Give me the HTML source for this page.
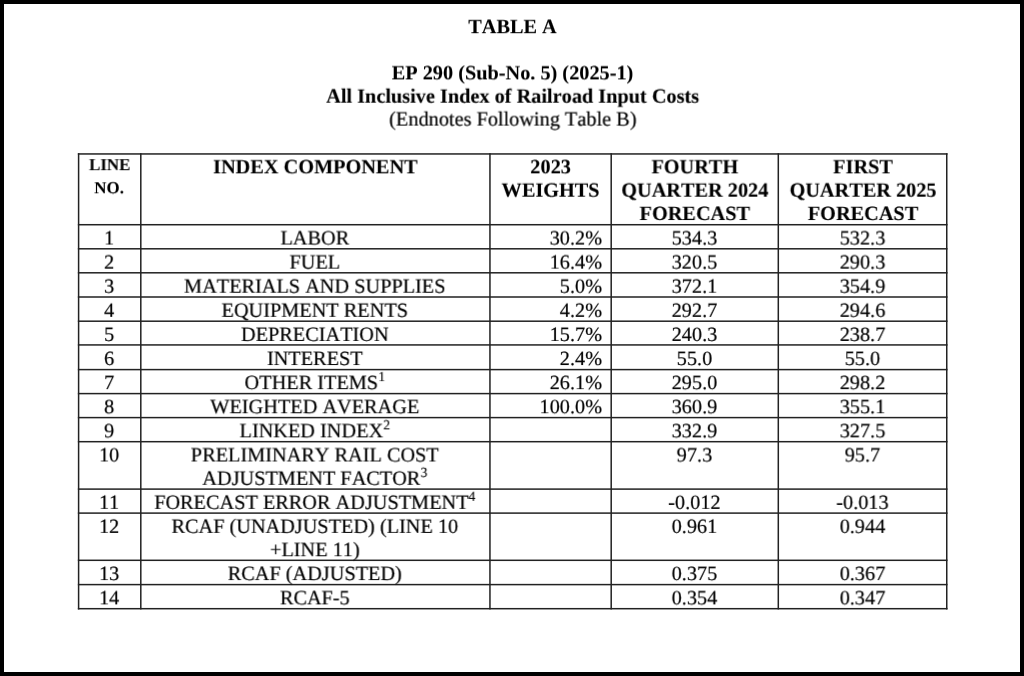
<!DOCTYPE html>
<html><head><meta charset="utf-8"><title>Table A</title>
<style>
html,body{margin:0;padding:0;}
body{width:1024px;height:676px;background:#000;position:relative;overflow:hidden;
 font-family:"Liberation Serif",serif;color:#000;font-kerning:none;}
#page{position:absolute;left:4px;top:4px;width:1016px;height:668px;background:#fff;}
.t{position:absolute;height:23px;line-height:23px;white-space:nowrap;margin:0;padding:0;
 will-change:transform;transform-origin:50% 50%;-webkit-text-stroke:0.2px #000;text-rendering:geometricPrecision;}
sup{font-size:13.8px;line-height:0;vertical-align:baseline;position:relative;top:-8.1px;-webkit-text-stroke-width:0.1px;}
svg{position:absolute;left:0;top:0;}
</style></head><body>
<div id="page"></div>
<svg width="1024" height="676" viewBox="0 0 1024 676" fill="#222">
<rect x="77.85" y="153.20" width="1.5" height="456.25"/>
<rect x="140.05" y="153.20" width="1.5" height="456.25"/>
<rect x="489.20" y="153.20" width="1.5" height="456.25"/>
<rect x="610.45" y="153.20" width="1.5" height="456.25"/>
<rect x="777.55" y="153.20" width="1.5" height="456.25"/>
<rect x="946.00" y="153.20" width="1.5" height="456.25"/>
<rect x="77.85" y="153.20" width="869.65" height="1.5"/>
<rect x="77.85" y="223.97" width="869.65" height="1.5"/>
<rect x="77.85" y="248.05" width="869.65" height="1.5"/>
<rect x="77.85" y="272.05" width="869.65" height="1.5"/>
<rect x="77.85" y="296.25" width="869.65" height="1.5"/>
<rect x="77.85" y="320.45" width="869.65" height="1.5"/>
<rect x="77.85" y="344.18" width="869.65" height="1.5"/>
<rect x="77.85" y="368.85" width="869.65" height="1.5"/>
<rect x="77.85" y="392.85" width="869.65" height="1.5"/>
<rect x="77.85" y="416.85" width="869.65" height="1.5"/>
<rect x="77.85" y="440.94" width="869.65" height="1.5"/>
<rect x="77.85" y="488.35" width="869.65" height="1.5"/>
<rect x="77.85" y="512.35" width="869.65" height="1.5"/>
<rect x="77.85" y="559.55" width="869.65" height="1.5"/>
<rect x="77.85" y="583.85" width="869.65" height="1.5"/>
<rect x="77.85" y="607.95" width="869.65" height="1.5"/>
</svg>
<div class="t" style="left:0px;top:16px;width:1025.00px;text-align:center;font-size:20.3px;font-weight:bold;-webkit-text-stroke-width:0.1px;transform:translate(0.00px,0.20px) rotate(0.003deg);">TABLE A</div>
<div class="t" style="left:0px;top:62px;width:1025.00px;text-align:center;font-size:20.3px;font-weight:bold;-webkit-text-stroke-width:0.1px;transform:translate(0.00px,0.40px) rotate(0.003deg);">EP 290 (Sub-No. 5) (2025-1)</div>
<div class="t" style="left:0px;top:85px;width:1025.00px;text-align:center;font-size:20.3px;font-weight:bold;-webkit-text-stroke-width:0.1px;transform:translate(0.20px,0.70px) rotate(0.003deg);">All Inclusive Index of Railroad Input Costs</div>
<div class="t" style="left:0px;top:108px;width:1025.00px;text-align:center;font-size:20.3px;transform:translate(0.40px,0.60px) rotate(0.003deg);">(Endnotes Following Table B)</div>
<div class="t" style="left:78px;top:153px;width:62.20px;text-align:center;font-size:16.9px;font-weight:bold;-webkit-text-stroke-width:0.1px;transform:translate(0.60px,0.20px) rotate(0.003deg);">LINE</div>
<div class="t" style="left:78px;top:176px;width:62.20px;text-align:center;font-size:16.9px;font-weight:bold;-webkit-text-stroke-width:0.1px;transform:translate(0.00px,0.30px) rotate(0.003deg);">NO.</div>
<div class="t" style="left:140px;top:156px;width:349.15px;text-align:center;font-size:20.3px;font-weight:bold;-webkit-text-stroke-width:0.1px;transform:translate(0.80px,0.35px) rotate(0.003deg);">INDEX COMPONENT</div>
<div class="t" style="left:489px;top:156px;width:121.25px;text-align:center;font-size:20.3px;font-weight:bold;-webkit-text-stroke-width:0.1px;transform:translate(0.95px,0.35px) rotate(0.003deg);">2023</div>
<div class="t" style="left:489px;top:179px;width:121.25px;text-align:center;font-size:20.3px;font-weight:bold;-webkit-text-stroke-width:0.1px;transform:translate(0.95px,0.70px) rotate(0.003deg);">WEIGHTS</div>
<div class="t" style="left:611px;top:156px;width:167.10px;text-align:center;font-size:20.3px;font-weight:bold;-webkit-text-stroke-width:0.1px;transform:translate(0.30px,0.35px) rotate(0.003deg);">FOURTH</div>
<div class="t" style="left:611px;top:179px;width:167.10px;text-align:center;font-size:20.3px;font-weight:bold;-webkit-text-stroke-width:0.1px;transform:translate(0.30px,0.70px) rotate(0.003deg);">QUARTER 2024</div>
<div class="t" style="left:611px;top:203px;width:167.10px;text-align:center;font-size:20.3px;font-weight:bold;-webkit-text-stroke-width:0.1px;transform:translate(0.30px,0.05px) rotate(0.003deg);">FORECAST</div>
<div class="t" style="left:778px;top:156px;width:168.45px;text-align:center;font-size:20.3px;font-weight:bold;-webkit-text-stroke-width:0.1px;transform:translate(0.80px,0.35px) rotate(0.003deg);">FIRST</div>
<div class="t" style="left:778px;top:179px;width:168.45px;text-align:center;font-size:20.3px;font-weight:bold;-webkit-text-stroke-width:0.1px;transform:translate(0.80px,0.70px) rotate(0.003deg);">QUARTER 2025</div>
<div class="t" style="left:778px;top:203px;width:168.45px;text-align:center;font-size:20.3px;font-weight:bold;-webkit-text-stroke-width:0.1px;transform:translate(0.80px,0.05px) rotate(0.003deg);">FORECAST</div>
<div class="t" style="left:78px;top:227px;width:62.20px;text-align:center;font-size:20.3px;transform:translate(0.10px,0.55px) rotate(0.003deg);">1</div>
<div class="t" style="left:140px;top:227px;width:349.15px;text-align:center;font-size:20.3px;transform:translate(0.30px,0.55px) rotate(0.003deg);">LABOR</div>
<div class="t" style="left:489px;top:227px;width:112.05px;text-align:right;font-size:20.3px;transform:translate(0.95px,0.55px) rotate(0.003deg);">30.2%</div>
<div class="t" style="left:610px;top:227px;width:167.10px;text-align:center;font-size:20.3px;transform:translate(0.90px,0.55px) rotate(0.003deg);">534.3</div>
<div class="t" style="left:778px;top:227px;width:168.45px;text-align:center;font-size:20.3px;transform:translate(0.30px,0.55px) rotate(0.003deg);">532.3</div>
<div class="t" style="left:78px;top:251px;width:62.20px;text-align:center;font-size:20.3px;transform:translate(0.10px,0.65px) rotate(0.003deg);">2</div>
<div class="t" style="left:140px;top:251px;width:349.15px;text-align:center;font-size:20.3px;transform:translate(0.30px,0.65px) rotate(0.003deg);">FUEL</div>
<div class="t" style="left:489px;top:251px;width:112.05px;text-align:right;font-size:20.3px;transform:translate(0.95px,0.65px) rotate(0.003deg);">16.4%</div>
<div class="t" style="left:610px;top:251px;width:167.10px;text-align:center;font-size:20.3px;transform:translate(0.90px,0.65px) rotate(0.003deg);">320.5</div>
<div class="t" style="left:778px;top:251px;width:168.45px;text-align:center;font-size:20.3px;transform:translate(0.30px,0.65px) rotate(0.003deg);">290.3</div>
<div class="t" style="left:78px;top:275px;width:62.20px;text-align:center;font-size:20.3px;transform:translate(0.10px,0.75px) rotate(0.003deg);">3</div>
<div class="t" style="left:140px;top:275px;width:349.15px;text-align:center;font-size:20.3px;transform:translate(0.30px,0.75px) rotate(0.003deg);">MATERIALS AND SUPPLIES</div>
<div class="t" style="left:489px;top:275px;width:112.05px;text-align:right;font-size:20.3px;transform:translate(0.95px,0.75px) rotate(0.003deg);">5.0%</div>
<div class="t" style="left:610px;top:275px;width:167.10px;text-align:center;font-size:20.3px;transform:translate(0.90px,0.75px) rotate(0.003deg);">372.1</div>
<div class="t" style="left:778px;top:275px;width:168.45px;text-align:center;font-size:20.3px;transform:translate(0.30px,0.75px) rotate(0.003deg);">354.9</div>
<div class="t" style="left:78px;top:299px;width:62.20px;text-align:center;font-size:20.3px;transform:translate(0.10px,0.85px) rotate(0.003deg);">4</div>
<div class="t" style="left:140px;top:299px;width:349.15px;text-align:center;font-size:20.3px;transform:translate(0.30px,0.85px) rotate(0.003deg);">EQUIPMENT RENTS</div>
<div class="t" style="left:489px;top:299px;width:112.05px;text-align:right;font-size:20.3px;transform:translate(0.95px,0.85px) rotate(0.003deg);">4.2%</div>
<div class="t" style="left:610px;top:299px;width:167.10px;text-align:center;font-size:20.3px;transform:translate(0.90px,0.85px) rotate(0.003deg);">292.7</div>
<div class="t" style="left:778px;top:299px;width:168.45px;text-align:center;font-size:20.3px;transform:translate(0.30px,0.85px) rotate(0.003deg);">294.6</div>
<div class="t" style="left:78px;top:323px;width:62.20px;text-align:center;font-size:20.3px;transform:translate(0.10px,0.95px) rotate(0.003deg);">5</div>
<div class="t" style="left:140px;top:323px;width:349.15px;text-align:center;font-size:20.3px;transform:translate(0.30px,0.95px) rotate(0.003deg);">DEPRECIATION</div>
<div class="t" style="left:489px;top:323px;width:112.05px;text-align:right;font-size:20.3px;transform:translate(0.95px,0.95px) rotate(0.003deg);">15.7%</div>
<div class="t" style="left:610px;top:323px;width:167.10px;text-align:center;font-size:20.3px;transform:translate(0.90px,0.95px) rotate(0.003deg);">240.3</div>
<div class="t" style="left:778px;top:323px;width:168.45px;text-align:center;font-size:20.3px;transform:translate(0.30px,0.95px) rotate(0.003deg);">238.7</div>
<div class="t" style="left:78px;top:348px;width:62.20px;text-align:center;font-size:20.3px;transform:translate(0.10px,0.05px) rotate(0.003deg);">6</div>
<div class="t" style="left:140px;top:348px;width:349.15px;text-align:center;font-size:20.3px;transform:translate(0.30px,0.05px) rotate(0.003deg);">INTEREST</div>
<div class="t" style="left:489px;top:348px;width:112.05px;text-align:right;font-size:20.3px;transform:translate(0.95px,0.05px) rotate(0.003deg);">2.4%</div>
<div class="t" style="left:610px;top:348px;width:167.10px;text-align:center;font-size:20.3px;transform:translate(0.90px,0.05px) rotate(0.003deg);">55.0</div>
<div class="t" style="left:778px;top:348px;width:168.45px;text-align:center;font-size:20.3px;transform:translate(0.30px,0.05px) rotate(0.003deg);">55.0</div>
<div class="t" style="left:78px;top:372px;width:62.20px;text-align:center;font-size:20.3px;transform:translate(0.10px,0.15px) rotate(0.003deg);">7</div>
<div class="t" style="left:140px;top:372px;width:349.15px;text-align:center;font-size:20.3px;transform:translate(0.30px,0.15px) rotate(0.003deg);">OTHER ITEMS<sup>1</sup></div>
<div class="t" style="left:489px;top:372px;width:112.05px;text-align:right;font-size:20.3px;transform:translate(0.95px,0.15px) rotate(0.003deg);">26.1%</div>
<div class="t" style="left:610px;top:372px;width:167.10px;text-align:center;font-size:20.3px;transform:translate(0.90px,0.15px) rotate(0.003deg);">295.0</div>
<div class="t" style="left:778px;top:372px;width:168.45px;text-align:center;font-size:20.3px;transform:translate(0.30px,0.15px) rotate(0.003deg);">298.2</div>
<div class="t" style="left:78px;top:396px;width:62.20px;text-align:center;font-size:20.3px;transform:translate(0.10px,0.25px) rotate(0.003deg);">8</div>
<div class="t" style="left:140px;top:396px;width:349.15px;text-align:center;font-size:20.3px;transform:translate(0.30px,0.25px) rotate(0.003deg);">WEIGHTED AVERAGE</div>
<div class="t" style="left:489px;top:396px;width:112.05px;text-align:right;font-size:20.3px;transform:translate(0.95px,0.25px) rotate(0.003deg);">100.0%</div>
<div class="t" style="left:610px;top:396px;width:167.10px;text-align:center;font-size:20.3px;transform:translate(0.90px,0.25px) rotate(0.003deg);">360.9</div>
<div class="t" style="left:778px;top:396px;width:168.45px;text-align:center;font-size:20.3px;transform:translate(0.30px,0.25px) rotate(0.003deg);">355.1</div>
<div class="t" style="left:78px;top:420px;width:62.20px;text-align:center;font-size:20.3px;transform:translate(0.10px,0.35px) rotate(0.003deg);">9</div>
<div class="t" style="left:140px;top:420px;width:349.15px;text-align:center;font-size:20.3px;transform:translate(0.30px,0.35px) rotate(0.003deg);">LINKED INDEX<sup>2</sup></div>
<div class="t" style="left:610px;top:420px;width:167.10px;text-align:center;font-size:20.3px;transform:translate(0.90px,0.35px) rotate(0.003deg);">332.9</div>
<div class="t" style="left:778px;top:420px;width:168.45px;text-align:center;font-size:20.3px;transform:translate(0.30px,0.35px) rotate(0.003deg);">327.5</div>
<div class="t" style="left:78px;top:444px;width:62.20px;text-align:center;font-size:20.3px;transform:translate(0.10px,0.50px) rotate(0.003deg);">10</div>
<div class="t" style="left:140px;top:444px;width:349.15px;text-align:center;font-size:20.3px;transform:translate(0.30px,0.50px) rotate(0.003deg);">PRELIMINARY RAIL COST</div>
<div class="t" style="left:140px;top:467px;width:349.15px;text-align:center;font-size:20.3px;transform:translate(0.30px,0.85px) rotate(0.003deg);">ADJUSTMENT FACTOR<sup>3</sup></div>
<div class="t" style="left:610px;top:444px;width:167.10px;text-align:center;font-size:20.3px;transform:translate(0.90px,0.50px) rotate(0.003deg);">97.3</div>
<div class="t" style="left:778px;top:444px;width:168.45px;text-align:center;font-size:20.3px;transform:translate(0.30px,0.50px) rotate(0.003deg);">95.7</div>
<div class="t" style="left:78px;top:491px;width:62.20px;text-align:center;font-size:20.3px;transform:translate(0.10px,0.90px) rotate(0.003deg);">11</div>
<div class="t" style="left:140px;top:491px;width:349.15px;text-align:center;font-size:20.3px;transform:translate(0.30px,0.90px) rotate(0.003deg);">FORECAST ERROR ADJUSTMENT<sup>4</sup></div>
<div class="t" style="left:610px;top:491px;width:167.10px;text-align:center;font-size:20.3px;transform:translate(0.90px,0.90px) rotate(0.003deg);">-0.012</div>
<div class="t" style="left:778px;top:491px;width:168.45px;text-align:center;font-size:20.3px;transform:translate(0.30px,0.90px) rotate(0.003deg);">-0.013</div>
<div class="t" style="left:78px;top:515px;width:62.20px;text-align:center;font-size:20.3px;transform:translate(0.10px,0.90px) rotate(0.003deg);">12</div>
<div class="t" style="left:140px;top:515px;width:349.15px;text-align:center;font-size:20.3px;transform:translate(0.30px,0.90px) rotate(0.003deg);">RCAF (UNADJUSTED) (LINE 10</div>
<div class="t" style="left:140px;top:539px;width:349.15px;text-align:center;font-size:20.3px;transform:translate(0.30px,0.25px) rotate(0.003deg);">+LINE 11)</div>
<div class="t" style="left:610px;top:515px;width:167.10px;text-align:center;font-size:20.3px;transform:translate(0.90px,0.90px) rotate(0.003deg);">0.961</div>
<div class="t" style="left:778px;top:515px;width:168.45px;text-align:center;font-size:20.3px;transform:translate(0.30px,0.90px) rotate(0.003deg);">0.944</div>
<div class="t" style="left:78px;top:563px;width:62.20px;text-align:center;font-size:20.3px;transform:translate(0.10px,0.10px) rotate(0.003deg);">13</div>
<div class="t" style="left:140px;top:563px;width:349.15px;text-align:center;font-size:20.3px;transform:translate(0.30px,0.10px) rotate(0.003deg);">RCAF (ADJUSTED)</div>
<div class="t" style="left:610px;top:563px;width:167.10px;text-align:center;font-size:20.3px;transform:translate(0.90px,0.10px) rotate(0.003deg);">0.375</div>
<div class="t" style="left:778px;top:563px;width:168.45px;text-align:center;font-size:20.3px;transform:translate(0.30px,0.10px) rotate(0.003deg);">0.367</div>
<div class="t" style="left:78px;top:587px;width:62.20px;text-align:center;font-size:20.3px;transform:translate(0.10px,0.40px) rotate(0.003deg);">14</div>
<div class="t" style="left:140px;top:587px;width:349.15px;text-align:center;font-size:20.3px;transform:translate(0.30px,0.40px) rotate(0.003deg);">RCAF-5</div>
<div class="t" style="left:610px;top:587px;width:167.10px;text-align:center;font-size:20.3px;transform:translate(0.90px,0.40px) rotate(0.003deg);">0.354</div>
<div class="t" style="left:778px;top:587px;width:168.45px;text-align:center;font-size:20.3px;transform:translate(0.30px,0.40px) rotate(0.003deg);">0.347</div>
</body></html>
